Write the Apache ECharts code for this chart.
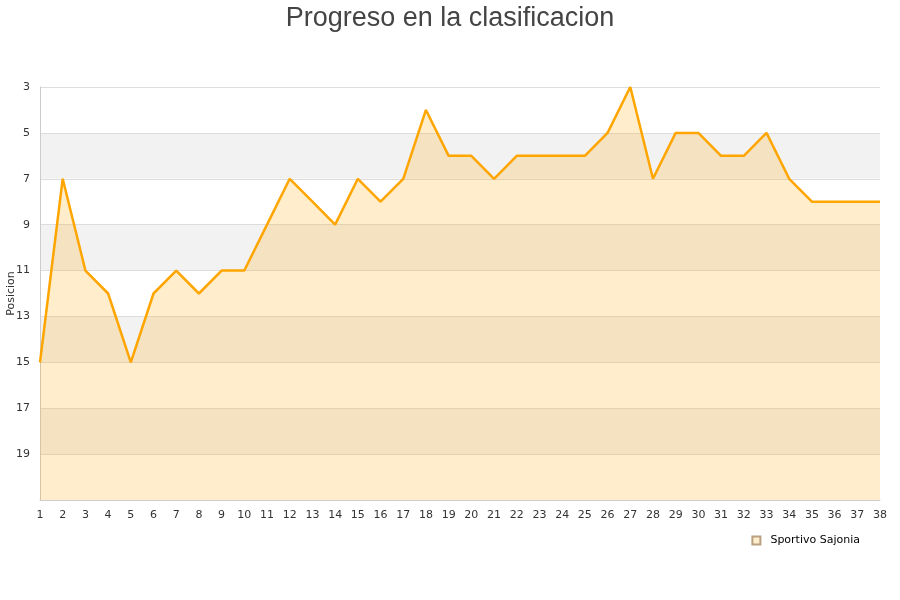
<!DOCTYPE html>
<html><head><meta charset="utf-8">
<script src="https://cdn.jsdelivr.net/npm/echarts@6/dist/echarts.min.js"></script>
<style>html,body{margin:0;padding:0;background:#fff}#c{width:900px;height:600px}</style>
</head><body><div id="c"></div>
<script>
const jornadas = ["1","2","3","4","5","6","7","8","9","10","11","12","13","14","15","16","17","18","19","20","21","22","23","24","25","26","27","28","29","30","31","32","33","34","35","36","37","38"];
const posiciones = [15,7,11,12,15,12,11,12,11,11,9,7,8,9,7,8,7,4,6,6,7,6,6,6,6,5,3,7,5,5,6,6,5,7,8,8,8,8];
const serieNombre = "Sportivo Sajonia";
const titulo = "Progreso en la clasificacion";

const chart = echarts.init(document.getElementById('c'));
chart.setOption({
  animation: false,
  backgroundColor: '#fff',
  title: { text: titulo, left: 'center', top: 0, textStyle: { fontFamily: 'Liberation Sans', fontSize: 27, fontWeight: 'normal', color: '#444' } },
  grid: { left: 40, right: 20, top: 87, bottom: 100, containLabel: false, outerBoundsMode: 'none' },
  legend: { right: 35, top: 530, itemWidth: 8, itemHeight: 8, icon: 'rect', itemGap: 5, textStyle: { fontFamily: 'DejaVu Sans', fontSize: 11, color: '#000', padding: [0, 0, 0, 5] } },
  xAxis: {
    type: 'category', data: jornadas, boundaryGap: false,
    axisLine: { lineStyle: { color: '#ccc' } }, axisTick: { show: false },
    axisLabel: { color: '#333', fontFamily: 'DejaVu Sans', fontSize: 11, margin: 10, interval: 0 },
    splitLine: { show: false }
  },
  yAxis: {
    type: 'value', inverse: true, min: 3, max: 21, interval: 2,
    name: 'Posicion', nameLocation: 'middle', nameGap: 23, nameMoveOverlap: false,
    nameTextStyle: { fontFamily: 'DejaVu Sans', fontSize: 11, color: '#333' },
    axisLine: { show: true, lineStyle: { color: '#ccc' } }, axisTick: { show: false },
    axisLabel: { color: '#333', fontFamily: 'DejaVu Sans', fontSize: 11, margin: 10, formatter: v => v === 21 ? '' : v },
    splitLine: { show: true, lineStyle: { color: '#ddd' } },
    splitArea: { show: true, areaStyle: { color: ['#ffffff', '#f2f2f2'] } }
  },
  series: [{
    name: serieNombre, type: 'line', data: posiciones,
    symbol: 'none', lineStyle: { color: '#ffa500', width: 2.5 },
    itemStyle: { color: '#ffeecc', borderColor: '#b8a080', borderWidth: 1 },
    areaStyle: { color: 'rgba(255,165,0,0.2)', opacity: 1, origin: 'end' }
  }]
});
</script></body></html>
